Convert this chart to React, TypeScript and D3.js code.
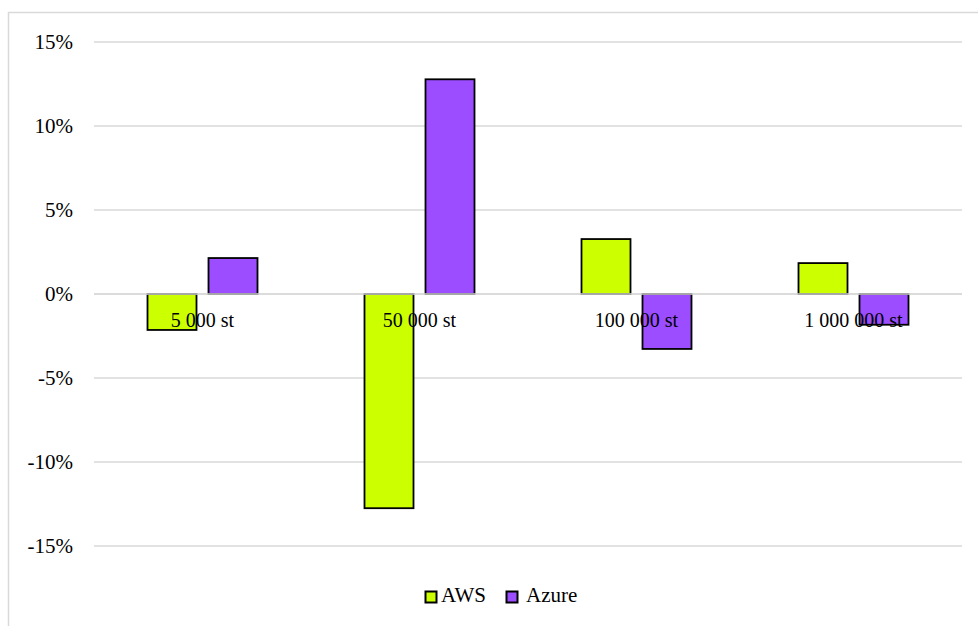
import React from "react";
import * as d3 from "d3";

const categories = ["5 000 st", "50 000 st", "100 000 st", "1 000 000 st"];
const awsValues = [-2.14, -12.75, 3.27, 1.84];
const azureValues = [2.14, 12.78, -3.27, -1.83];
const yTicks = [15, 10, 5, 0, -5, -10, -15];
const seriesNames = ["AWS", "Azure"];
const seriesColors = ["#CCFF00", "#9B4DFF"];

export default function App() {
  const W = 978, H = 626;
  const left = 94, right = 962;
  const y = d3.scaleLinear().domain([-15, 15]).range([546, 42]);
  const x = d3.scaleBand<string>().domain(categories).range([left, right]).padding(0);
  const bw = 49, gap = 12;
  const series = [awsValues, azureValues];
  const font = "Liberation Serif, DejaVu Serif, serif";
  return (
    <svg width={W} height={H} style={{ position: "absolute", left: 0, top: 0, fontFamily: font }}>
      <rect x={8.5} y={12.5} width={1100} height={800} fill="white" stroke="#d9d9d9" strokeWidth={1.5} />
      {yTicks.map((t) => (
        <g key={t}>
          <line x1={left} x2={right} y1={y(t)} y2={y(t)} stroke="#d9d9d9" strokeWidth={1.5} />
          <text x={73} y={y(t) + 7} textAnchor="end" fontSize={21} fill="#000" style={{ fontFamily: font }}>{t}%</text>
        </g>
      ))}
      {categories.map((c, i) => {
        const cx = (x(c) as number) + x.bandwidth() / 2;
        return (
          <g key={c}>
            {series.map((vals, s) => {
              const v = vals[i];
              const bx = s === 0 ? cx - gap / 2 - bw : cx + gap / 2;
              const y0 = y(Math.max(0, v));
              const h = Math.abs(y(v) - y(0));
              return (
                <rect key={s} x={bx} y={y0} width={bw} height={h} fill={seriesColors[s]} stroke="#000" strokeWidth={1.8} />
              );
            })}
          </g>
        );
      })}
      <line x1={left} x2={right} y1={y(0)} y2={y(0)} stroke="#d9d9d9" strokeWidth={1.5} />
      {categories.map((c) => {
        const cx = (x(c) as number) + x.bandwidth() / 2;
        return (
          <text key={c} x={cx} y={327} textAnchor="middle" fontSize={20} fill="#000" style={{ fontFamily: font }}>{c}</text>
        );
      })}
      <g>
        <rect x={425.5} y={591.5} width={11} height={11} fill={seriesColors[0]} stroke="#000" strokeWidth={2} />
        <text x={441} y={602} fontSize={21} fill="#000" style={{ fontFamily: font }}>{seriesNames[0]}</text>
        <rect x={506.5} y={591.5} width={11} height={11} fill={seriesColors[1]} stroke="#000" strokeWidth={2} />
        <text x={526} y={602} fontSize={21} fill="#000" style={{ fontFamily: font }}>{seriesNames[1]}</text>
      </g>
    </svg>
  );
}
